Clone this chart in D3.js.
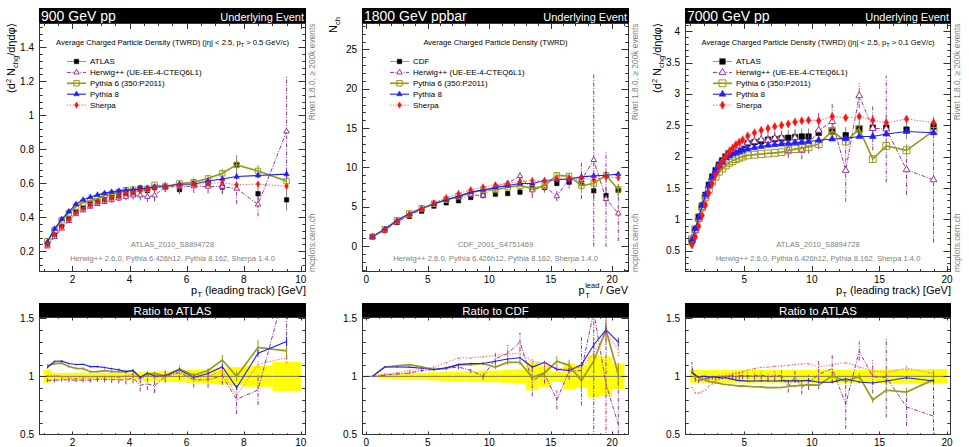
<!DOCTYPE html>
<html><head><meta charset="utf-8">
<script src="https://cdn.jsdelivr.net/npm/d3@7"></script>
<style>
body{margin:0;background:#fff}
svg{display:block}
text{font-family:"Liberation Sans",Arial,Helvetica,"DejaVu Sans",sans-serif}
</style></head>
<body><svg id="c" width="969" height="447"></svg>
<script>
// ===================== DATA =====================
// ---- 900 GeV pp (ATLAS_2010_S8894728) ----
const edges900 = [1.0,1.25,1.5,1.75,2.0,2.25,2.5,2.75,3.0,3.25,3.5,3.75,4.0,4.25,4.5,4.75,5.0,5.5,6.0,6.5,7.0,7.5,8.0,9.0,10.0];
const x900 = [1.125,1.375,1.625,1.875,2.125,2.375,2.625,2.875,3.125,3.375,3.625,3.875,4.125,4.375,4.625,4.875,5.25,5.75,6.25,6.75,7.25,7.75,8.5,9.5];
const atlas900    = [0.236,0.293,0.343,0.390,0.432,0.455,0.478,0.490,0.503,0.515,0.525,0.537,0.535,0.572,0.556,0.575,0.577,0.562,0.600,0.598,0.577,0.708,0.538,0.502];
const atlas900Err = [0.013,0.009,0.010,0.012,0.013,0.014,0.014,0.015,0.015,0.015,0.016,0.016,0.019,0.020,0.022,0.023,0.026,0.028,0.033,0.036,0.040,0.057,0.048,0.063];
const herwig900    = [0.228,0.283,0.333,0.378,0.418,0.440,0.462,0.478,0.490,0.500,0.510,0.520,0.528,0.528,0.520,0.528,0.577,0.580,0.582,0.580,0.580,0.568,0.475,0.905];
const herwig900Err = [0.004,0.005,0.006,0.007,0.008,0.009,0.010,0.012,0.013,0.015,0.017,0.020,0.025,0.030,0.030,0.035,0.030,0.035,0.040,0.040,0.045,0.090,0.070,0.330];
const py6_900    = [0.258,0.325,0.382,0.423,0.462,0.485,0.497,0.510,0.528,0.536,0.546,0.558,0.562,0.566,0.567,0.590,0.580,0.598,0.605,0.628,0.658,0.708,0.672,0.612];
const py6_900Err = [0.003,0.003,0.003,0.004,0.004,0.004,0.005,0.005,0.005,0.006,0.006,0.007,0.007,0.008,0.008,0.009,0.009,0.010,0.012,0.014,0.025,0.030,0.035,0.035];
const py8_900    = [0.254,0.331,0.388,0.433,0.476,0.502,0.518,0.531,0.541,0.549,0.555,0.559,0.562,0.566,0.572,0.576,0.580,0.594,0.594,0.613,0.625,0.639,0.645,0.653];
const py8_900Err = [0.002,0.002,0.003,0.003,0.003,0.003,0.004,0.004,0.004,0.004,0.005,0.005,0.005,0.006,0.006,0.006,0.007,0.008,0.009,0.010,0.012,0.014,0.016,0.020];
const sherpa900    = [0.238,0.296,0.343,0.385,0.425,0.450,0.470,0.487,0.500,0.512,0.522,0.540,0.545,0.555,0.562,0.570,0.578,0.585,0.592,0.598,0.603,0.590,0.595,0.582];
const sherpa900Err = [0.003,0.003,0.004,0.004,0.004,0.005,0.005,0.005,0.006,0.006,0.006,0.007,0.007,0.008,0.008,0.009,0.009,0.010,0.011,0.012,0.014,0.016,0.018,0.022];
const xTicks900 = [2,4,6,8,10];
const yTicks900 = [0.2,0.4,0.6,0.8,1,1.2,1.4];

// ---- 1800 GeV ppbar (CDF_2001_S4751469) ----
const edges1800 = [0,1,2,3,4,5,6,7,8,9,10,11,12,13,14,15,16,17,18,19,20,21];
const x1800 = [0.5,1.5,2.5,3.5,4.5,5.5,6.5,7.5,8.5,9.5,10.5,11.5,12.5,13.5,14.5,15.5,16.5,17.5,18.5,19.5,20.5];
const cdf1800    = [1.18,1.98,3.00,3.77,4.44,5.08,5.50,5.76,6.18,6.43,6.60,6.69,6.86,7.37,7.45,7.96,8.13,8.00,7.03,6.43,7.07];
const cdf1800Err = [0.006,0.04,0.075,0.113,0.133,0.178,0.22,0.23,0.278,0.32,0.33,0.37,0.41,0.88,0.67,0.32,0.89,0.80,1.27,1.09,0.78];
const herwig1800    = [1.18,2.00,3.06,3.88,4.66,5.38,5.88,6.22,6.50,6.43,7.60,8.00,8.90,7.10,7.60,6.35,8.50,8.40,10.95,6.00,4.15];
const herwig1800Err = [0.01,0.02,0.03,0.04,0.05,0.07,0.09,0.11,0.14,0.18,0.35,0.50,0.55,1.00,0.60,0.65,0.60,2.40,11.0,6.10,3.50];
const py6_1800    = [1.18,2.14,3.27,4.15,4.80,5.38,5.88,6.34,6.80,7.14,7.13,7.49,7.68,7.30,7.67,9.00,8.90,7.70,7.96,9.00,7.20];
const py6_1800Err = [0.005,0.01,0.02,0.03,0.04,0.05,0.06,0.07,0.08,0.10,0.12,0.14,0.16,0.20,0.30,0.35,0.40,0.80,0.60,0.80,0.70];
const py8_1800    = [1.18,2.14,3.24,4.07,4.75,5.38,5.90,6.34,6.86,7.14,7.46,7.69,7.96,7.96,8.34,8.44,8.54,8.80,8.93,9.00,9.15];
const py8_1800Err = [0.005,0.01,0.02,0.02,0.03,0.03,0.04,0.04,0.05,0.05,0.06,0.07,0.08,0.09,0.10,0.12,0.14,0.16,0.18,0.22,0.26];
const sherpa1800    = [1.18,2.02,3.09,3.96,4.71,5.49,6.16,6.68,7.17,7.52,7.79,7.96,8.23,8.33,8.27,8.52,8.62,8.64,8.44,8.81,8.70];
const sherpa1800Err = [0.005,0.01,0.02,0.03,0.03,0.04,0.05,0.06,0.07,0.08,0.09,0.10,0.12,0.14,0.16,0.18,0.20,0.25,0.30,0.35,0.40];
const xTicks1800 = [0,5,10,15,20];
const yTicks1800 = [0,5,10,15,20,25];

// ---- 7000 GeV pp (ATLAS_2010_S8894728) ----
const edges7000 = [1.0,1.25,1.5,1.75,2.0,2.25,2.5,2.75,3.0,3.25,3.5,3.75,4.0,4.25,4.5,4.75,5.0,5.5,6.0,6.5,7.0,7.5,8.0,8.5,9.0,9.5,10.0,11,12,13,14,15,16,18,20];
const x7000 = [1.125,1.375,1.625,1.875,2.125,2.375,2.625,2.875,3.125,3.375,3.625,3.875,4.125,4.375,4.625,4.875,5.25,5.75,6.25,6.75,7.25,7.75,8.25,8.75,9.25,9.75,10.5,11.5,12.5,13.5,14.5,15.5,17,19];
const atlas7000    = [0.65,0.84,1.04,1.22,1.39,1.55,1.68,1.78,1.87,1.94,2.00,2.05,2.09,2.13,2.16,2.18,2.21,2.23,2.245,2.27,2.28,2.29,2.30,2.31,2.32,2.32,2.38,2.40,2.34,2.44,2.46,2.46,2.43,2.48];
const atlas7000Err = [0.036,0.046,0.057,0.067,0.076,0.085,0.092,0.098,0.103,0.107,0.110,0.113,0.115,0.117,0.119,0.120,0.122,0.123,0.123,0.125,0.125,0.126,0.127,0.127,0.128,0.128,0.131,0.132,0.129,0.134,0.135,0.150,0.150,0.155];
const herwig7000    = [0.70,0.82,1.00,1.19,1.36,1.53,1.66,1.76,1.86,1.93,2.00,2.05,2.10,2.13,2.17,2.20,2.22,2.24,2.27,2.26,2.29,2.30,2.10,2.30,2.10,2.20,2.42,2.56,1.78,2.97,2.45,2.44,1.79,1.63];
const herwig7000Err = [0.03,0.02,0.02,0.02,0.03,0.03,0.03,0.04,0.04,0.04,0.05,0.05,0.06,0.06,0.07,0.07,0.06,0.07,0.08,0.08,0.09,0.10,0.12,0.12,0.14,0.15,0.30,0.30,0.50,0.20,0.35,0.85,0.40,1.00];
const py6_7000    = [0.68,0.84,1.03,1.19,1.35,1.48,1.60,1.68,1.76,1.81,1.86,1.90,1.93,1.96,1.98,2.00,2.02,2.03,2.04,2.05,2.06,2.07,2.10,2.12,2.14,2.15,2.20,2.41,2.24,2.44,1.96,2.17,2.10,2.41];
const py6_7000Err = [0.005,0.005,0.006,0.006,0.007,0.007,0.008,0.008,0.009,0.009,0.010,0.010,0.011,0.011,0.012,0.012,0.012,0.013,0.014,0.015,0.016,0.018,0.020,0.022,0.025,0.028,0.030,0.050,0.050,0.070,0.060,0.070,0.080,0.100];
const py8_7000    = [0.67,0.85,1.03,1.22,1.39,1.54,1.67,1.77,1.85,1.91,1.98,2.01,2.04,2.06,2.08,2.10,2.12,2.14,2.16,2.18,2.19,2.20,2.21,2.22,2.23,2.24,2.26,2.28,2.29,2.32,2.32,2.36,2.40,2.38];
const py8_7000Err = [0.004,0.004,0.005,0.005,0.005,0.006,0.006,0.006,0.007,0.007,0.007,0.008,0.008,0.008,0.009,0.009,0.009,0.010,0.010,0.011,0.011,0.012,0.013,0.014,0.015,0.016,0.018,0.020,0.022,0.025,0.028,0.030,0.030,0.035];
const sherpa7000    = [0.59,0.72,0.89,1.06,1.23,1.42,1.57,1.71,1.83,1.92,2.00,2.07,2.13,2.19,2.23,2.27,2.33,2.38,2.42,2.45,2.48,2.50,2.52,2.55,2.57,2.58,2.57,2.64,2.62,2.64,2.58,2.54,2.60,2.54];
const sherpa7000Err = [0.006,0.006,0.007,0.007,0.008,0.008,0.009,0.009,0.010,0.010,0.011,0.011,0.012,0.012,0.013,0.013,0.014,0.015,0.016,0.017,0.018,0.019,0.020,0.022,0.024,0.026,0.028,0.030,0.032,0.035,0.040,0.045,0.050,0.060];
const xTicks7000 = [5,10,15,20];
const yTicks7000 = [0.5,1,1.5,2,2.5,3,3.5,4];

const ratioTicks = [0.5,1,1.5];
const mcNames = ["Herwig++ (UE-EE-4-CTEQ6L1)","Pythia 6 (350:P2011)","Pythia 8","Sherpa"];
const versionText = "Herwig++ 2.6.0, Pythia 6.426h12, Pythia 8.162, Sherpa 1.4.0";

// ===================== DRAWING =====================
const svg = d3.select("#c");
const defs = svg.append("defs");
const fmt = d3.format("~g");

const STY = {
  data:   {color:"#000", err:"#808080", lw:1, dash:null, line:false, sym:d3.symbolSquare, size:20, fill:"#000", legLine:"#999"},
  herwig: {color:"#993399", err:"#993399", lw:1, dash:"4,1.5,1,1.5", line:true, sym:d3.symbolTriangle, size:13, fill:"#fff"},
  py6:    {color:"#9a9a1e", err:"#9a9a1e", lw:1.7, dash:null, line:true, sym:d3.symbolSquare, size:30, fill:"none"},
  py8:    {color:"#1e1eff", err:"#1e1eff", lw:1.1, dash:null, line:true, sym:d3.symbolTriangle, size:13, fill:"#1e1eff"},
  sherpa: {color:"#ff2020", err:"#ff5050", lw:1, dash:"1.3,1.6", line:true, sym:d3.symbolDiamond, size:12, fill:"#ff1010", lineColor:"#ff6060"}
};

const RT = 317, RB = 435, RY = [0.495, 1.511];
const MT = 23, MB = 272;

function series(g, x, y, xs, vals, errs, st, markers, ms) {
  const gg = g.append("g");
  if (st.line) {
    gg.append("path")
      .attr("d", d3.line().x((d,i)=>x(xs[i])).y(d=>y(d))(vals))
      .attr("fill","none").attr("stroke", st.lineColor || st.color)
      .attr("stroke-width", st.lw).attr("stroke-dasharray", st.dash);
  }
  gg.selectAll(null).data(vals).join("line")
    .attr("x1",(d,i)=>x(xs[i])).attr("x2",(d,i)=>x(xs[i]))
    .attr("y1",(d,i)=>y(d-errs[i])).attr("y2",(d,i)=>y(d+errs[i]))
    .attr("stroke", st.err).attr("stroke-width", 1)
    .attr("stroke-dasharray", st.dash);
  if (markers) {
    gg.selectAll(null).data(vals).join("path")
      .attr("transform",(d,i)=>`translate(${x(xs[i])},${y(d)})`)
      .attr("d", d3.symbol(st.sym, st.size*ms*ms)())
      .attr("fill", st.fill).attr("stroke", st.color).attr("stroke-width", st.fill==="none"||st.fill==="#fff"?1:0.5);
  }
}

function frame(g, x, y, L, R, T, B, xMaj, xMin, yMaj, yMin, xl, yl) {
  const p = d3.path();
  const xin = v => v >= x.domain()[0] && v <= x.domain()[1];
  const yin = v => v >= y.domain()[0] && v <= y.domain()[1];
  xMaj.filter(xin).forEach(v=>{const px=Math.round(x(v))+0.5; p.moveTo(px,B); p.lineTo(px,B-xl); p.moveTo(px,T); p.lineTo(px,T+xl);});
  xMin.filter(xin).forEach(v=>{const px=Math.round(x(v))+0.5; p.moveTo(px,B); p.lineTo(px,B-xl/2); p.moveTo(px,T); p.lineTo(px,T+xl/2);});
  yMaj.filter(yin).forEach(v=>{const py=Math.round(y(v))+0.5; p.moveTo(L,py); p.lineTo(L+yl,py); p.moveTo(R,py); p.lineTo(R-yl,py);});
  yMin.filter(yin).forEach(v=>{const py=Math.round(y(v))+0.5; p.moveTo(L,py); p.lineTo(L+yl/2,py); p.moveTo(R,py); p.lineTo(R-yl/2,py);});
  g.append("path").attr("d",p.toString()).attr("stroke","#333").attr("stroke-width",1).attr("fill","none");
  g.append("rect").attr("x",L+0.5).attr("y",T+0.5).attr("width",R-L-1).attr("height",B-T-1)
    .attr("fill","none").attr("stroke","#333").attr("stroke-width",1);
}

function minors(a, b, step) {
  const out = [];
  for (let k = Math.ceil(a/step - 1e-9); k*step <= b + 1e-9; k++) out.push(+(k*step).toFixed(6));
  return out;
}

function panel(P) {
  const x = d3.scaleLinear().domain(P.xDom).range([P.L, P.R]);
  const y = d3.scaleLinear().domain(P.yDom).range([MB, MT]);
  const ry = d3.scaleLinear().domain(RY).range([RB, RT]);
  const ms = P.ms || 1;
  const g = svg.append("g");
  defs.append("clipPath").attr("id",P.id+"m").append("rect")
    .attr("x",P.L).attr("y",MT).attr("width",P.R-P.L).attr("height",MB-MT);
  defs.append("clipPath").attr("id",P.id+"r").append("rect")
    .attr("x",P.L).attr("y",RT).attr("width",P.R-P.L).attr("height",RB-RT);

  // title bar
  g.append("rect").attr("x",P.L).attr("y",8).attr("width",P.R-P.L).attr("height",15).attr("fill","#000");
  g.append("text").attr("x",P.L+2).attr("y",21.3).attr("fill","#fff").attr("font-size",14).text(P.title);
  g.append("text").attr("x",P.R-2).attr("y",20.6).attr("text-anchor","end").attr("fill","#fff").attr("font-size",11).text("Underlying Event");

  // main area
  const m = g.append("g").attr("clip-path",`url(#${P.id}m)`);
  series(m, x, y, P.xs, P.data, P.dataErr, STY.data, true, ms);
  P.mc.forEach(s => series(m, x, y, P.xs, s.v, s.e, STY[s.k], true, ms));

  const xMin = minors(P.xDom[0], P.xDom[1], P.xMinor);
  frame(g, x, y, P.L, P.R, MT, MB, P.xTicks, xMin, P.yTicks, minors(P.yDom[0], P.yDom[1], P.yMinor), 6, 7.5);

  // tick labels
  g.selectAll(null).data(P.xTicks).join("text")
    .attr("x",d=>x(d)).attr("y",282.6).attr("text-anchor","middle").attr("font-size",10).text(fmt);
  g.selectAll(null).data(P.yTicks).join("text")
    .attr("x",P.L-5).attr("y",d=>y(d)+3.6).attr("text-anchor","end").attr("font-size",10).text(fmt);

  // subtitle
  const cx = (P.L+P.R)/2;
  const st = g.append("text").attr("x",cx).attr("y",45.4).attr("text-anchor","middle").attr("font-size",7.6);
  P.subtitle(st);

  // legend
  const lx = P.L + 28;
  const rows = [{k:"data", n:P.dataName}].concat(P.mc.map((s,i)=>({k:s.k, n:mcNames[i]})));
  rows.forEach((r,i) => {
    const yy = 61.5 + 10.9*i, s = STY[r.k];
    g.append("line").attr("x1",lx).attr("x2",lx+19).attr("y1",yy).attr("y2",yy)
      .attr("stroke", s.legLine || s.lineColor || s.color).attr("stroke-width", r.k==="data"?1:s.lw)
      .attr("stroke-dasharray", s.dash);
    g.append("path").attr("transform",`translate(${lx+9.5},${yy})`).attr("d", d3.symbol(s.sym, s.size*ms*ms)())
      .attr("fill", s.fill).attr("stroke", s.color).attr("stroke-width", s.fill==="none"||s.fill==="#fff"?1:0.5);
    g.append("text").attr("x",lx+23).attr("y",yy+2.9).attr("font-size",8).text(r.n);
  });

  // bottom notes
  g.append("text").attr("x",cx).attr("y",246.6).attr("text-anchor","middle").attr("font-size",7.6).attr("fill","#808080").text(P.analysis);
  g.append("text").attr("x",cx).attr("y",260.6).attr("text-anchor","middle").attr("font-size",7.6).attr("fill","#808080").text(versionText);

  // side labels
  g.append("text").attr("transform",`translate(${P.R+9},${MT+0.5}) rotate(-90)`).attr("text-anchor","end")
    .attr("font-size",8.4).attr("fill","#808080").text("Rivet 1.8.0, \u2265 200k events");
  g.append("text").attr("transform",`translate(${P.R+9},${MB}) rotate(-90)`).attr("text-anchor","start")
    .attr("font-size",8.4).attr("fill","#808080").text("mcplots.cern.ch");

  // axis titles
  P.yLabel(g);
  P.xLabel(g);

  // ===== ratio =====
  g.append("rect").attr("x",P.L).attr("y",303).attr("width",P.R-P.L).attr("height",14).attr("fill","#000");
  g.append("text").attr("x",cx).attr("y",314.6).attr("text-anchor","middle").attr("fill","#fff").attr("font-size",11.5).text("Ratio to " + P.dataName);
  const r = g.append("g").attr("clip-path",`url(#${P.id}r)`);
  r.selectAll(null).data(P.data).join("rect")
    .attr("x",(d,i)=>x(P.edges[i])).attr("width",(d,i)=>x(P.edges[i+1])-x(P.edges[i]))
    .attr("y",(d,i)=>ry(1+P.dataErr[i]/d)).attr("height",(d,i)=>ry(1-P.dataErr[i]/d)-ry(1+P.dataErr[i]/d))
    .attr("fill","#ffff00");
  r.append("line").attr("x1",P.L).attr("x2",P.R).attr("y1",ry(1)).attr("y2",ry(1)).attr("stroke","#777").attr("stroke-width",1);
  P.mc.forEach(s => series(r, x, ry, P.xs, s.v.map((v,i)=>v/P.data[i]), s.e.map((e,i)=>e/P.data[i]), STY[s.k], false, ms));
  frame(g, x, ry, P.L, P.R, RT, RB, P.xTicks, xMin, ratioTicks, minors(0.5,1.5,0.1), 3.5, 7.5);
  g.selectAll(null).data(P.xTicks).join("text")
    .attr("x",d=>x(d)).attr("y",445.5).attr("text-anchor","middle").attr("font-size",10).text(fmt);
  g.selectAll(null).data(ratioTicks).join("text")
    .attr("x",P.L-5).attr("y",d=>ry(d)+3.6).attr("text-anchor","end").attr("font-size",10).text(fmt);
}

function subEta(ptCut){ return t => {
  t.append("tspan").text("Average Charged Particle Density (TWRD) (|\u03b7| < 2.5, p");
  t.append("tspan").attr("font-size",5.5).attr("dy",2).text("T");
  t.append("tspan").attr("dy",-2).text(" > " + ptCut + " GeV/c)");
};}
function yDens(xb){ return g => {
  const t = g.append("text").attr("transform",`translate(${xb},${MT}) rotate(-90)`).attr("text-anchor","end").attr("font-size",11);
  t.append("tspan").text("\u27e8d");
  t.append("tspan").attr("font-size",7.5).attr("dy",-4).text("2");
  t.append("tspan").attr("dy",4).text(" N");
  t.append("tspan").attr("font-size",7.5).attr("dy",3).text("chg");
  t.append("tspan").attr("dy",-3).text("/d\u03b7d\u03c6\u27e9");
};}
function xLead(R){ return g => {
  const t = g.append("text").attr("x",R).attr("y",294.3).attr("text-anchor","end").attr("font-size",11);
  t.append("tspan").text("p");
  t.append("tspan").attr("font-size",8).attr("dy",3).text("T");
  t.append("tspan").attr("dy",-3).text(" (leading track) [GeV]");
};}

panel({
  id:"p900", L:39, R:306, xDom:[0.83,10.18], yDom:[0.077,1.543],
  xTicks:xTicks900, xMinor:0.5, yTicks:yTicks900, yMinor:0.04,
  title:"900 GeV pp", dataName:"ATLAS", analysis:"ATLAS_2010_S8894728",
  xs:x900, edges:edges900, data:atlas900, dataErr:atlas900Err,
  mc:[{k:"herwig",v:herwig900,e:herwig900Err},{k:"py6",v:py6_900,e:py6_900Err},{k:"py8",v:py8_900,e:py8_900Err},{k:"sherpa",v:sherpa900,e:sherpa900Err}],
  subtitle: subEta("0.5"), yLabel: yDens(14.5), xLabel: xLead(306)
});

panel({
  id:"p1800", L:362, R:629, xDom:[-0.35,21.37], yDom:[-3.3,28.37],
  xTicks:xTicks1800, xMinor:1, yTicks:yTicks1800, yMinor:1,
  title:"1800 GeV ppbar", dataName:"CDF", analysis:"CDF_2001_S4751469",
  xs:x1800, edges:edges1800, data:cdf1800, dataErr:cdf1800Err,
  mc:[{k:"herwig",v:herwig1800,e:herwig1800Err},{k:"py6",v:py6_1800,e:py6_1800Err},{k:"py8",v:py8_1800,e:py8_1800Err},{k:"sherpa",v:sherpa1800,e:sherpa1800Err}],
  subtitle: t => t.text("Average Charged Particle Density (TWRD)"),
  yLabel: g => {
    const t = g.append("text").attr("transform",`translate(337,17) rotate(-90)`).attr("text-anchor","end").attr("font-size",11);
    t.append("tspan").text("N");
    t.append("tspan").attr("font-size",7.5).attr("dy",3).text("ch");
  },
  xLabel: g => {
    const R = 628, yb = 294;
    const t3 = g.append("text").attr("x",R).attr("y",yb).attr("text-anchor","end").attr("font-size",11).text(" / GeV");
    const w3 = t3.node().getComputedTextLength();
    const sup = g.append("text").attr("y",yb-6).attr("font-size",7.5).text("lead");
    const ws = sup.node().getComputedTextLength();
    const xs0 = R - w3 - ws - 0.5;
    sup.attr("x", xs0);
    g.append("text").attr("x",xs0).attr("y",yb+3.5).attr("font-size",7.5).text("T");
    g.append("text").attr("x",xs0-0.5).attr("y",yb).attr("text-anchor","end").attr("font-size",11).text("p");
  }
});

panel({
  id:"p7000", L:685, R:951, xDom:[0.61,20.29], yDom:[0.16,4.13], ms:1.25,
  xTicks:xTicks7000, xMinor:1, yTicks:yTicks7000, yMinor:0.1,
  title:"7000 GeV pp", dataName:"ATLAS", analysis:"ATLAS_2010_S8894728",
  xs:x7000, edges:edges7000, data:atlas7000, dataErr:atlas7000Err,
  mc:[{k:"herwig",v:herwig7000,e:herwig7000Err},{k:"py6",v:py6_7000,e:py6_7000Err},{k:"py8",v:py8_7000,e:py8_7000Err},{k:"sherpa",v:sherpa7000,e:sherpa7000Err}],
  subtitle: subEta("0.1"), yLabel: yDens(660.5), xLabel: xLead(951)
});
</script></body></html>
